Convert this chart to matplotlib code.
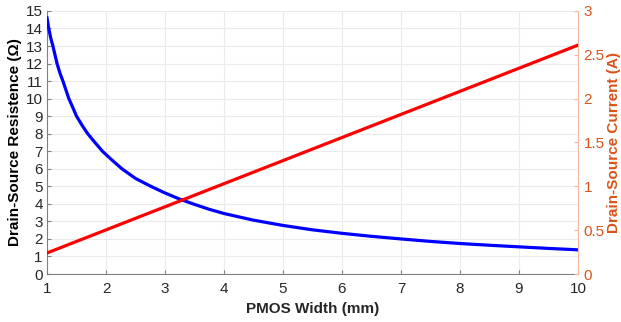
import matplotlib
matplotlib.use("Agg")
import matplotlib.pyplot as plt

plt.rcParams['font.family'] = ['Liberation Sans', 'DejaVu Sans']

width_mm = [1.0, 1.03, 1.06, 1.10, 1.17, 1.22, 1.27, 1.37, 1.43, 1.50, 1.60, 1.69, 1.80, 1.94,
            2.1, 2.27, 2.5, 2.76, 3.0, 3.25, 3.5, 3.75,
            4.0, 4.5, 5.0, 5.5, 6.0, 6.5, 7.0, 7.5, 8.0, 8.5, 9.0, 9.5, 10.0]
resistance = [14.6, 14.0, 13.5, 13.0, 12.0, 11.45, 11.0, 10.0, 9.55, 9.0, 8.45, 8.0, 7.55, 7.0,
              6.5, 6.0, 5.45, 5.0, 4.62, 4.27, 3.97, 3.69,
              3.45, 3.07, 2.77, 2.52, 2.32, 2.15, 2.0, 1.86, 1.74, 1.64, 1.55, 1.46, 1.38]
current_x = [1.0, 10.0]
current = [0.24, 2.61]

xticks = list(range(1, 11))
left_ticks = list(range(0, 16))
right_ticks = [0, 0.5, 1, 1.5, 2, 2.5, 3]
right_labels = ['0', '0.5', '1', '1.5', '2', '2.5', '3']

orange = (0.85, 0.325, 0.098)
orange_light = (0.96, 0.72, 0.62)
gray = (0.5, 0.5, 0.5)
dark = (0.15, 0.15, 0.15)

fig = plt.figure(figsize=(6.21, 3.22), dpi=100)
ax = fig.add_axes([0.0757, 0.149, 0.855, 0.817])
ax2 = ax.twinx()

ax.plot(width_mm, resistance, color=(0, 0, 1), lw=2.3, zorder=3, solid_joinstyle='round')
ax2.plot(current_x, current, color=(1, 0, 0), lw=2.3, zorder=3)

ax.set_xlim(1, 10)
ax.set_ylim(0, 15)
ax2.set_ylim(0, 3)
ax.set_xticks(xticks)
ax.set_yticks(left_ticks)
ax2.set_yticks(right_ticks)
ax2.set_yticklabels(right_labels)

ax.grid(True, color=(0.92, 0.92, 0.92), lw=0.8)
ax.set_axisbelow(True)

for a in (ax, ax2):
    a.spines['top'].set_visible(False)
ax.spines['right'].set_visible(False)
ax2.spines['left'].set_visible(False)
ax2.spines['bottom'].set_visible(False)
ax.spines['left'].set_color(gray)
ax.spines['bottom'].set_color(gray)
ax2.spines['right'].set_color(orange_light)

ax.tick_params(axis='both', direction='in', labelsize=11, colors=gray, labelcolor=dark, length=3)
ax.tick_params(axis='x', pad=6)
ax.tick_params(axis='y', pad=3)
ax2.tick_params(axis='y', direction='in', labelsize=11, colors=orange_light, labelcolor=orange, length=3, pad=4)

ax.set_xlabel('PMOS Width (mm)', fontsize=11, fontweight='bold', color=dark, labelpad=4)
ax.set_ylabel('Drain-Source Resistence (\u03a9)', fontsize=11, fontweight='bold', color='black', labelpad=3)
ax2.set_ylabel('Drain-Source Current (A)', fontsize=11, fontweight='bold', color=orange, labelpad=2)

fig.savefig('out.png', dpi=100)
